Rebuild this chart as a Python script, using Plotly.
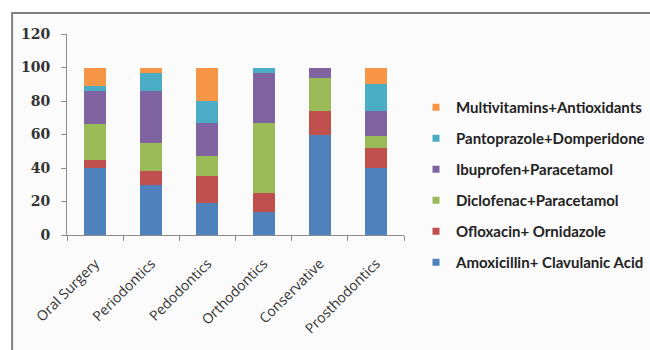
import plotly.graph_objects as go

# Dental specialties (x categories)
departments = ["Oral Surgery", "Periodontics", "Pedodontics",
               "Orthodontics", "Conservative", "Prosthodontics"]

# Percentage share of each drug combination per specialty
amoxicillin = [40, 30, 19, 14, 60, 40]
ofloxacin = [5, 8, 16, 11, 14, 12]
diclofenac = [21, 17, 12, 42, 20, 7]
ibuprofen = [20, 31, 20, 30, 6, 15]
pantoprazole = [3, 11, 13, 3, 0, 16]
multivitamins = [11, 3, 20, 0, 0, 10]

y_ticks = [0, 20, 40, 60, 80, 100, 120]

series = [
    ("Amoxicillin+ Clavulanic Acid", amoxicillin, "#4F81BD"),
    ("Ofloxacin+ Ornidazole", ofloxacin, "#C0504D"),
    ("Diclofenac+Paracetamol", diclofenac, "#9BBB59"),
    ("Ibuprofen+Paracetamol", ibuprofen, "#8064A2"),
    ("Pantoprazole+Domperidone", pantoprazole, "#4BACC6"),
    ("Multivitamins+Antioxidants", multivitamins, "#F79646"),
]

fig = go.Figure()
n = len(series)
for i, (name, vals, color) in enumerate(series):
    fig.add_trace(go.Bar(
        name=name, x=departments, y=vals,
        marker=dict(color=color, line=dict(width=0)),
        showlegend=False,
    ))
    # small square key for the legend
    fig.add_trace(go.Scatter(
        name=name, x=[None], y=[None], mode="markers",
        marker=dict(symbol="square", size=7, color=color),
        legendrank=n - i, legendgroup=name,
    ))

# Chart frame pixel geometry
L, R, T, B = 67, 233, 34, 115
W, H = 650, 350
pw, ph = W - L - R, H - T - B

def px_x(p):
    return (p - L) / pw

def px_y(p):
    return (H - B - p) / ph

fig.update_layout(
    width=W, height=H,
    barmode="stack",
    bargap=0.61,
    margin=dict(l=L, r=R, t=T, b=B),
    paper_bgcolor="white",
    plot_bgcolor="rgba(0,0,0,0)",
    showlegend=True,
    legend=dict(
        traceorder="grouped",
        tracegroupgap=8.5,
        xref="container", yref="container",
        x=416 / W, xanchor="left",
        y=1 - 91 / H, yanchor="top",
        maxheight=340,
        font=dict(family="Lato", size=15, color="#222222", weight=700),
        bgcolor="rgba(0,0,0,0)",
        itemwidth=30,
    ),
    shapes=[dict(
        type="rect", xref="paper", yref="paper", layer="below",
        x0=px_x(10), x1=px_x(700), y0=px_y(13), y1=px_y(420),
        fillcolor="#fbfbfb", line=dict(color="#7f7f7f", width=2),
    )],
    xaxis=dict(
        tickangle=-45,
        showline=True, linecolor="#8c8c8c", linewidth=1,
        ticks="outside", ticklen=5, tickcolor="#8c8c8c",
        tickson="boundaries",
        ticklabelstandoff=14,
        tickfont=dict(family="Open Sans", size=14, color="#333333"),
        showgrid=False,
    ),
    yaxis=dict(
        range=[0, 120], tickvals=y_ticks,
        showline=True, linecolor="#8c8c8c", linewidth=1,
        ticks="outside", ticklen=5, tickcolor="#8c8c8c",
        ticklabelstandoff=8,
        tickfont=dict(family="DejaVu Serif", size=14, color="#333333", weight="bold"),
        showgrid=False, zeroline=False,
    ),
)

fig.write_html("out.html")
